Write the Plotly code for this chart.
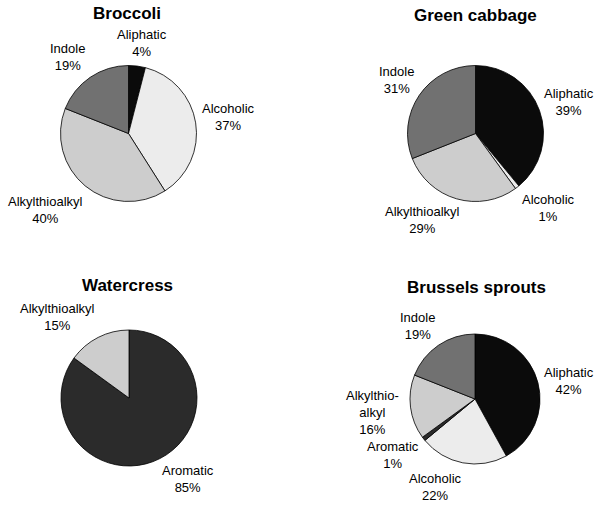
import plotly.graph_objects as go

W, H = 601, 506

# ---- data ----
titles = ["Broccoli", "Green cabbage", "Watercress", "Brussels sprouts"]

broccoli_labels = ["Aliphatic", "Alcoholic", "Alkylthioalkyl", "Indole"]
broccoli_values = [4, 37, 40, 19]

cabbage_labels = ["Aliphatic", "Alcoholic", "Alkylthioalkyl", "Indole"]
cabbage_values = [39, 1, 29, 31]

watercress_labels = ["Aromatic", "Alkylthioalkyl"]
watercress_values = [85, 15]

brussels_labels = ["Aliphatic", "Alcoholic", "Aromatic", "Alkylthioalkyl", "Indole"]
brussels_values = [42, 22, 1, 16, 19]

# ---- styling ----
colors = {
    "Aliphatic": "#0b0b0b",
    "Alcoholic": "#ececec",
    "Alkylthioalkyl": "#cdcdcd",
    "Indole": "#717171",
    "Aromatic": "#2b2b2b",
}

# pie centre (px) and radius (px)
pie_geom = [(128.5, 133.5, 68), (475.5, 133.5, 68), (129, 398, 68), (475, 399, 65)]
title_pos = [(127, 14), (475, 15), (127, 285), (476, 287)]

# label text centres (px), per pie, in slice order
label_pos = [
    [(142, 43), (228, 117), (45, 210), (67, 57)],
    [(569, 102), (548, 208), (422, 220), (396, 80)],
    [(188, 479), (57, 317)],
    [(569, 381), (435, 487), (393, 455), (372, 412), (417, 326)],
]
display_override = {(3, "Alkylthioalkyl"): "Alkylthio-<br>alkyl"}

datasets = [
    (broccoli_labels, broccoli_values),
    (cabbage_labels, cabbage_values),
    (watercress_labels, watercress_values),
    (brussels_labels, brussels_values),
]

fig = go.Figure()
annotations = []
FONT = "Liberation Sans, Arial, sans-serif"

for i, (labs, vals) in enumerate(datasets):
    cx, cy, r = pie_geom[i]
    fig.add_trace(go.Pie(
        labels=labs,
        values=vals,
        sort=False,
        direction="clockwise",
        rotation=0,
        textinfo="none",
        hoverinfo="label+percent",
        showlegend=False,
        marker=dict(colors=[colors[l] for l in labs],
                    line=dict(color="#000000", width=0.8)),
        domain=dict(x=[(cx - r) / W, (cx + r) / W],
                    y=[1 - (cy + r) / H, 1 - (cy - r) / H]),
    ))
    tx, ty = title_pos[i]
    annotations.append(dict(
        text="<b>%s</b>" % titles[i], x=tx / W, y=1 - ty / H,
        xref="paper", yref="paper", showarrow=False,
        xanchor="center", yanchor="middle",
        font=dict(family=FONT, size=17, color="#000000"),
    ))
    for j, (l, v) in enumerate(zip(labs, vals)):
        lx, ly = label_pos[i][j]
        name = display_override.get((i, l), l)
        annotations.append(dict(
            text="%s<br>%d%%" % (name, v), x=lx / W, y=1 - ly / H,
            xref="paper", yref="paper", showarrow=False,
            xanchor="center", yanchor="middle", align="center",
            font=dict(family=FONT, size=13, color="#000000"),
        ))

fig.update_layout(
    width=W, height=H,
    margin=dict(l=0, r=0, t=0, b=0),
    paper_bgcolor="white", plot_bgcolor="white",
    annotations=annotations,
)

fig.write_html(
    "out.html",
    config={"displayModeBar": False},
    post_script="document.body.style.margin='0';document.body.style.overflow='hidden';",
)
